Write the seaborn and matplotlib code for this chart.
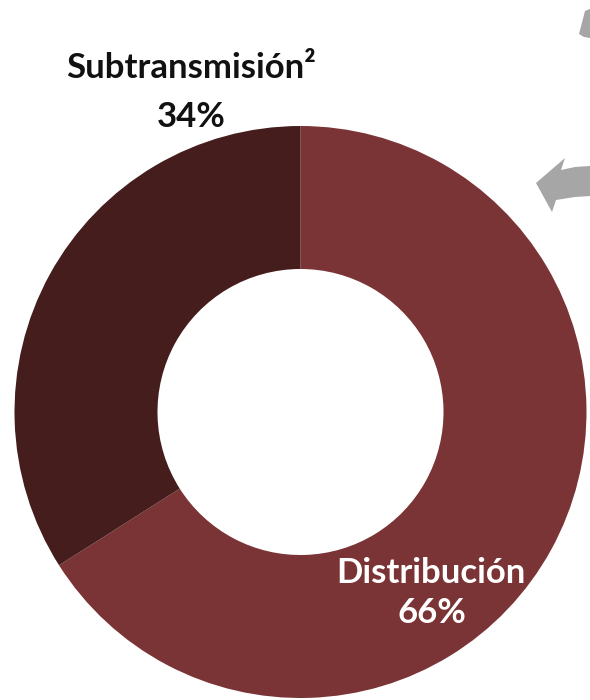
import matplotlib
matplotlib.use("Agg")
import matplotlib.pyplot as plt
from matplotlib.patches import Polygon
import numpy as np
import seaborn as sns

# Share of network by voltage level
categories = ["Distribución", "Subtransmisión²"]
shares = [66, 34]
pct_labels = ["66%", "34%"]
colors = ["#7B3435", "#451D1D"]

sns.set_theme(style="white")
plt.rcParams["font.family"] = ["Lato", "DejaVu Sans"]

W, H = 590, 700
fig = plt.figure(figsize=(W / 100, H / 100), dpi=100)
fig.patch.set_facecolor("white")

# Donut centred at (300.5, 412) px with outer radius 286 px
cx, cy, R = 300.5, 412.0, 286.0
ax = fig.add_axes([(cx - R) / W, (H - cy - R) / H, 2 * R / W, 2 * R / H])
ax.pie(shares, colors=colors, startangle=90, counterclock=False, radius=1.0,
       wedgeprops=dict(width=0.5, linewidth=0))
ax.set_xlim(-1, 1)
ax.set_ylim(-1, 1)
ax.set_aspect("equal")
ax.axis("off")

# Labels
fs = 25
ax.text(-0.383, 1.168, categories[1], ha="center", va="baseline",
        fontsize=fs, fontweight="bold", color="#111111", clip_on=False)
ax.text(-0.383, 0.997, pct_labels[1], ha="center", va="baseline",
        fontsize=fs, fontweight="bold", color="#111111", clip_on=False)
ax.text(0.456, -0.598, categories[0], ha="center", va="baseline",
        fontsize=fs, fontweight="bold", color="white")
ax.text(0.458, -0.738, pct_labels[0], ha="center", va="baseline",
        fontsize=fs, fontweight="bold", color="white")

# Grey cycle arrows at the right edge
def px_poly(pts, color="#A6A6A6"):
    pts = np.asarray(pts, dtype=float)
    xy = np.column_stack([pts[:, 0] / W, 1 - pts[:, 1] / H])
    fig.add_artist(Polygon(xy, closed=True, transform=fig.transFigure,
                           facecolor=color, edgecolor="none"))

px_poly([(536, 183), (565, 158), (561, 170), (575, 167), (590, 166),
         (590, 196), (575, 197), (556, 200), (552, 212)])
px_poly([(579, 34), (585, 11), (590, 9), (590, 38), (584, 37)])

fig.savefig("out.png", dpi=100, facecolor="white")
